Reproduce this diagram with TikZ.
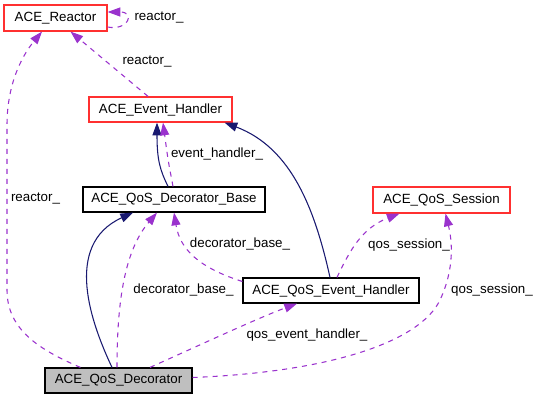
\documentclass[tikz,border=0pt]{standalone}
\usepackage{fontspec}
\setmainfont{Liberation Sans}
\usetikzlibrary{arrows.meta,calc}

\definecolor{usecol}{HTML}{9A32CD}
\definecolor{inhcol}{HTML}{191970}
\definecolor{refcol}{HTML}{FF3030}
\definecolor{maincol}{HTML}{BFBFBF}

\tikzset{
  classbox/.style={draw=black, line width=0.9pt, fill=white, inner sep=0pt,
    font=\fontsize{10pt}{12pt}\selectfont},
  refbox/.style={classbox, draw=refcol},
  mainbox/.style={classbox, fill=maincol},
  usage/.style={draw=usecol, line width=0.8pt, dash pattern=on 3.75pt off 3.75pt,
    -{Triangle[length=9.5pt,width=6.75pt,fill=usecol]}},
  inherit/.style={draw=inhcol, line width=0.8pt,
    -{Triangle[length=9.5pt,width=6.75pt,fill=inhcol]}},
  tag/.style={font=\fontsize{10pt}{12pt}\selectfont, inner sep=0pt}
}

\begin{document}
\begin{tikzpicture}[x=0.75pt, y=-0.75pt]
  \useasboundingbox (0,0) rectangle (539,400);

  % classes
  \node[refbox, minimum width=77.25pt, minimum height=19.5pt] (reactor) at (55.5,18) {ACE\_Reactor};
  \node[refbox, minimum width=107.25pt, minimum height=18.75pt] (evh) at (160.5,109.5) {ACE\_Event\_Handler};
  \node[classbox, minimum width=136.5pt, minimum height=18.75pt] (base) at (174,199.5) {ACE\_QoS\_Decorator\_Base};
  \node[refbox, minimum width=102.75pt, minimum height=19.5pt] (session) at (441.5,200) {ACE\_QoS\_Session};
  \node[classbox, minimum width=132pt, minimum height=18.75pt] (qevh) at (331,290.5) {ACE\_QoS\_Event\_Handler};
  \node[mainbox, minimum width=110.25pt, minimum height=18.75pt] (deco) at (118.5,380.5) {ACE\_QoS\_Decorator};

  % inheritance
  \draw[inherit] ($(base.north)+(-6,0)$) .. controls (160,170) and (157,160) .. ($(evh.south)+(-3.5,0)$);
  \draw[inherit] ($(qevh.north)+(-1,0)$) .. controls (315,210) and (292,148) .. ($(evh.south east)+(-8,0)$);
  \draw[inherit] ($(deco.north)+(-6.5,0)$) .. controls (92,325) and (62,245) .. ($(base.south)+(-41,0)$);

  % usage
  \draw[usage] ($(reactor.east)+(0,9)$) .. controls (128,31) and (136,12) .. ($(reactor.east)+(0,-6)$);
  \draw[usage] ($(evh.north)+(-12.5,0)$) -- ($(reactor.south)+(15,0)$);
  \draw[usage] ($(deco.north west)+(36,0)$) .. controls (40,350) and (7,330) .. (7,290)
    -- (7,125) .. controls (7,80) and (25,52) .. ($(reactor.south)+(-13.5,0)$);
  \draw[usage] ($(base.north)+(-1,0)$) .. controls (168,160) .. ($(evh.south)+(2.5,0)$);
  \draw[usage] ($(qevh.west)+(0,-9)$) .. controls (200,268) and (180,250) .. ($(base.south)+(0,0)$);
  \draw[usage] ($(qevh.north)+(6,0)$) .. controls (350,250) and (362,228) .. ($(session.south)+(-42,0)$);
  \draw[usage] ($(deco.north)+(-1.5,0)$) .. controls (117,300) and (125,250) .. ($(base.south)+(-17,0)$);
  \draw[usage] ($(deco.north)+(31.5,0)$) .. controls (200,345) and (258,318) .. ($(qevh.south)+(-34,0)$);
  \draw[usage] ($(deco.east)+(0,-3)$) .. controls (330,372) and (420,342) .. (440,300)
    .. controls (455,268) and (452,240) .. ($(session.south)+(4,0)$);

  % labels
  \node[tag] (lreactorself) at (159,18) {reactor\_};
  \node[tag] (lreactorevh) at (147,62) {reactor\_};
  \node[tag] (lreactordeco) at (35.5,199) {reactor\_};
  \node[tag] (levh) at (217,154) {event\_handler\_};
  \node[tag] (lbaseq) at (240,244) {decorator\_base\_};
  \node[tag] (lbased) at (183.5,290) {decorator\_base\_};
  \node[tag] (lsessionq) at (409,245) {qos\_session\_};
  \node[tag] (lsessiond) at (492,290) {qos\_session\_};
  \node[tag] (lqevh) at (307,335) {qos\_event\_handler\_};
\end{tikzpicture}
\end{document}
